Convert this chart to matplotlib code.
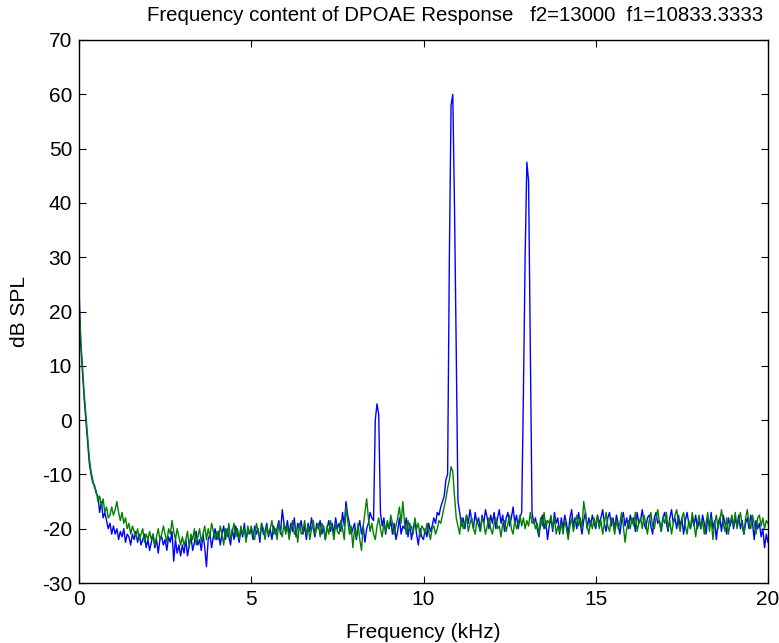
import numpy as np
import matplotlib.pyplot as plt

# frequency grid in kHz (0.05 kHz steps)
freq = np.arange(401) * 0.05

# blue trace, dB SPL (20 values per kHz)
blue = [
    24.5, 14, 9, 4, 0, -4, -8, -10, -11.5, -12, -13.5, -14, -17, -15, -18, -17, -18.5, -20, -19, -21,
    -19.5, -21, -20, -22, -20.5, -21.5, -20, -22.5, -21, -21.5, -23, -21, -22, -20.5, -22.5, -21, -23, -22, -21, -23.5,
    -22, -24, -22.5, -21, -23.5, -22, -24.5, -22, -21.5, -23, -22, -24, -21.5, -22.5, -20.5, -26, -22, -24.5, -23, -25,
    -23, -24.5, -22, -25, -23, -21.5, -24, -22.5, -20.5, -23, -22, -24, -21, -23.5, -27, -22, -21, -23.5, -21.5, -20,
    -22, -20.5, -23, -21, -19.5, -22, -20, -21.5, -23, -20, -22, -19.5, -21, -22.5, -20, -21.5, -19, -22, -20.5, -21,
    -20, -22, -19.5, -21, -20, -22.5, -19, -21, -20.5, -19, -21.5, -20, -22, -19.5, -21, -20, -18.5, -21, -16.5, -19,
    -20.5, -18.5, -21, -19, -20.5, -18, -21.5, -19, -20, -18.5, -21, -19.5, -22, -19, -20.5, -18, -20, -21.5, -19, -20,
    -18.5, -21, -19.5, -22, -20, -18.5, -20.5, -19, -21, -18, -20, -19, -20.5, -17, -19.5, -15, -17.5, -19, -21, -20,
    -19, -22, -20, -18.5, -21, -19.5, -22.5, -20, -19, -17, -18, -18.5, 0, 3, 1, -17, -19.5, -18, -21, -19,
    -20, -18.5, -21, -19, -22, -20.5, -18, -21, -19.5, -20, -18, -21.5, -19, -22, -20, -18.5, -21, -23, -20, -21.5,
    -22, -20, -21.5, -19, -20.5, -19.5, -18, -19, -17, -17.5, -16, -15, -14, -11, -10, 29.5, 58, 60, 39, 13,
    -15, -17, -19.5, -18, -20, -17.5, -19, -16.5, -18.5, -20, -17, -19, -18, -20.5, -17.5, -19, -16.5, -18, -20, -17.5,
    -19, -17, -20, -18, -16.5, -19, -17.5, -20.5, -18, -17, -19.5, -18, -16, -19, -17.5, -20, -18, -17, 5, 30,
    47.5, 44, 14, -17, -19, -18, -20, -21.5, -19, -17.5, -20, -18.5, -22, -19.5, -18, -20.5, -17, -19, -18, -21,
    -18, -20, -17.5, -19, -21, -18, -16.5, -19.5, -18, -20, -17, -19, -21, -18.5, -17, -20, -18, -19.5, -17.5, -19,
    -20, -17.5, -19, -18, -16.5, -19, -20.5, -18, -17, -19.5, -18, -20, -17.5, -19, -21, -18.5, -17, -19.5, -18, -20,
    -17.5, -19, -18, -20.5, -17, -19, -18.5, -16.5, -19, -20, -18, -17.5, -19.5, -21, -18, -17, -19, -18.5, -20.5, -18,
    -17, -19, -20.5, -18, -16.5, -19, -18, -20, -17.5, -19.5, -18, -21, -18.5, -17, -19, -20, -18, -19.5, -17.5, -20,
    -18.5, -20, -17.5, -19, -21, -18, -19.5, -17, -20, -18.5, -22, -19, -18, -20.5, -17.5, -19, -21, -18, -19.5, -18,
    -20, -18, -19.5, -17.5, -20, -18.5, -21, -19, -18, -20, -17.5, -19, -22, -18.5, -20, -19, -21.5, -20, -23.5, -21,
    -22.5,
]

# green trace, dB SPL
green = [
    22, 15, 10, 5, 1, -3, -7, -9.5, -11, -12.5, -13, -15, -14, -16, -14.5, -17, -16, -18, -17.5, -16,
    -17.5, -16.5, -15, -17, -18.5, -17, -19, -18, -20, -19, -21, -19.5, -20.5, -21.5, -20, -22, -21, -20, -22.5, -21,
    -22, -20.5, -22, -21, -23, -21.5, -20, -22, -21, -19.5, -21, -22.5, -20, -21, -18.5, -20.5, -22, -20, -21.5, -23,
    -21.5, -23, -22, -20.5, -23.5, -21, -22, -20, -23, -21.5, -20, -22.5, -21, -19.5, -22, -20, -21.5, -19, -20.5, -22,
    -20.5, -22, -19.5, -21, -23, -20, -21.5, -19, -22, -20.5, -19, -21.5, -20, -22, -19.5, -21, -20, -22.5, -19.5, -21,
    -19.5, -21, -22, -19, -20.5, -21.5, -19, -20, -22, -19.5, -21, -20, -18.5, -21, -20, -22, -19, -20.5, -21.5, -19,
    -21, -19.5, -22, -20, -18.5, -21, -20, -22.5, -19, -21, -20.5, -18.5, -21, -19.5, -22, -20, -18.5, -21, -20, -19,
    -21.5, -19, -20, -22, -19.5, -21, -18.5, -20, -22, -19, -20.5, -21, -18.5, -20, -22, -16, -18.5, -21, -19.5, -23.5,
    -20, -21.5, -19, -22, -24, -19.5, -17, -14.5, -18, -20.5, -19, -21, -22, -19.5, -18, -20, -21.5, -19, -20.5, -18.5,
    -20, -17.5, -19, -21, -19.5, -18, -16, -19, -15, -19, -21, -18.5, -20, -19.5, -21, -18, -20, -19, -21.5, -19.5,
    -20, -21, -19, -20.5, -22, -20, -19.5, -21, -20, -18.5, -19, -17.5, -16, -14.5, -12.5, -11, -8.6, -9.5, -14, -18,
    -19.5, -21, -18, -20, -19, -17.5, -20.5, -19, -18, -20, -21, -18.5, -19.5, -20.5, -18, -19, -21, -19.5, -18, -20,
    -21, -19, -18, -20, -19.5, -21.5, -19, -18.5, -20.5, -19, -17.5, -20, -21, -18.5, -20, -19, -17.5, -19.5, -18, -20,
    -18.5, -19.5, -17, -19, -18.5, -20, -19, -21, -18, -19.5, -17, -20, -18.5, -19, -17.5, -20, -18, -21, -19.5, -20.5,
    -19, -21, -18.5, -20, -22, -19.5, -18, -20.5, -19, -17.5, -19.5, -18, -20, -15, -17, -19.5, -21, -18.5, -20, -18,
    -19.5, -17.5, -20, -18.5, -21, -19, -17, -19.5, -20.5, -18, -19, -21, -18.5, -20, -19, -17, -19.5, -22.5, -20, -18.5,
    -20, -18, -19.5, -17, -20.5, -19, -18, -20, -17.5, -19, -21, -18.5, -17, -19.5, -20, -18, -16.5, -19, -20.5, -18,
    -19, -17, -20, -18.5, -21, -19, -17.5, -16.5, -19, -20.5, -18, -17, -19.5, -21, -18.5, -20, -17, -19, -21.5, -19,
    -17.5, -20, -18.5, -21, -19, -17, -20.5, -18, -22, -19, -17.5, -20, -18.5, -16.5, -19, -20.5, -18, -21, -19, -17.5,
    -19.5, -17, -20, -18.5, -17, -19.5, -21, -18, -16.5, -19, -20, -17.5, -19, -21, -18, -17.5, -19.5, -18, -20, -18.5,
    -19,
]

plt.rcParams['font.family'] = ['Liberation Sans', 'DejaVu Sans']
plt.rcParams['axes.unicode_minus'] = False

fig = plt.figure(figsize=(7.79, 6.43), dpi=100)
ax = fig.add_axes([0.1014, 0.0933, 0.8845, 0.8445])

ax.plot(freq, blue, color=(0, 0, 1), lw=1.0)
ax.plot(freq, green, color=(0, 0.5, 0), lw=1.0)

ax.set_xlim(0, 20)
ax.set_ylim(-30, 70)
ax.set_xticks([0, 5, 10, 15, 20])
ax.set_yticks(range(-30, 71, 10))
ax.tick_params(direction='in', top=True, right=True, length=5, labelsize=15, pad=5)
for s in ax.spines.values():
    s.set_linewidth(1.0)

ax.set_title('Frequency content of DPOAE Response   f2=13000  f1=10833.3333',
             fontsize=14.7, x=0.546, pad=14)
ax.set_xlabel('Frequency (kHz)', fontsize=15, labelpad=10)
ax.set_ylabel('dB SPL', fontsize=15, labelpad=9)

fig.savefig('out.png', dpi=100)
